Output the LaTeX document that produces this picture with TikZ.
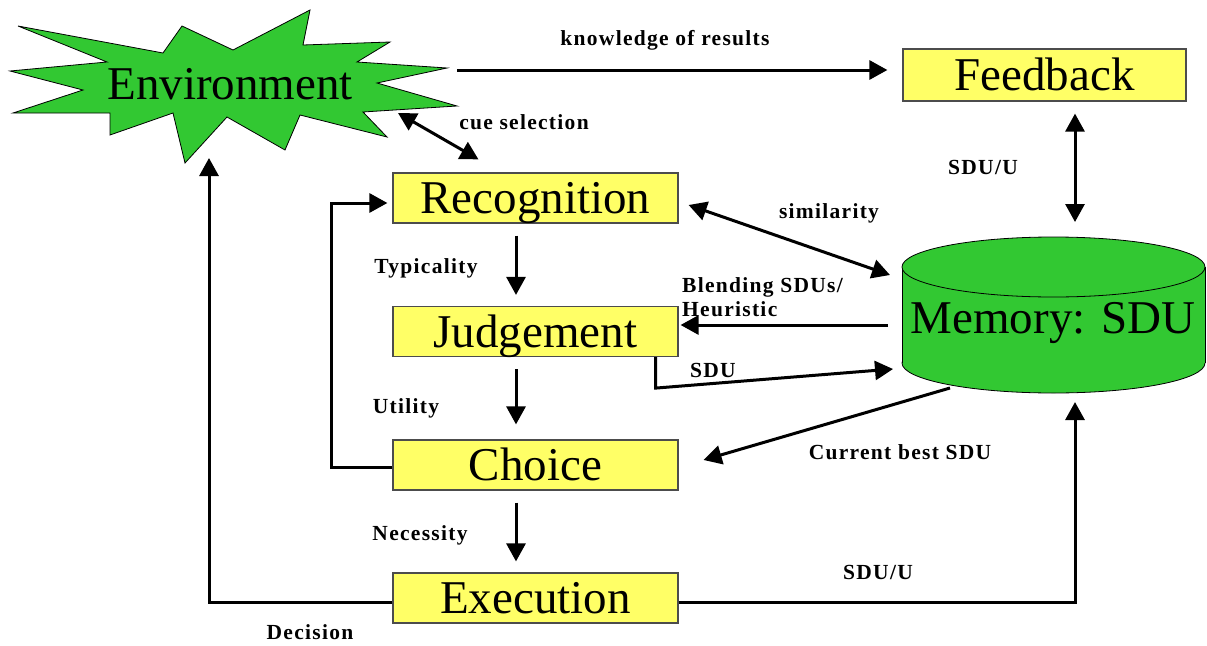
\documentclass[tikz,border=0pt]{standalone}
\usepackage{fontspec}
\setmainfont{Liberation Serif}
\newfontfamily\lblfont[LetterSpace=6]{Liberation Serif}
\usetikzlibrary{arrows.meta,calc}

\definecolor{envgreen}{RGB}{50,200,50}
\definecolor{boxyellow}{RGB}{255,255,102}

\tikzset{
  stage/.style={draw=black!70, line width=1.2pt, fill=boxyellow,
    minimum width=285, minimum height=50, inner sep=0pt,
    font=\fontsize{47}{50}\selectfont, text height=31pt, text depth=0pt},
  bigtext/.style={font=\fontsize{47}{50}\selectfont, inner sep=0pt,
    text height=31pt, text depth=0pt},
  lbl/.style={font=\lblfont\bfseries\fontsize{21.5}{24}\selectfont, inner sep=0pt},
  arr/.style={line width=3pt, -{Triangle[length=18pt,width=19pt]}},
  darr/.style={line width=3pt, {Triangle[length=18pt,width=19pt]}-{Triangle[length=18pt,width=19pt]}},
}

\begin{document}
\begin{tikzpicture}[x=1pt,y=-1pt]
\useasboundingbox (0,0) rectangle (1207,645);

%% environment burst
\draw[fill=envgreen, line width=0.8pt]
  (18,26) -- (163,53) -- (182,26) -- (233,50) -- (310,10) -- (303,45)
  -- (390,42) -- (357,62) -- (447,68) -- (377,83) -- (457,106) -- (363,112)
  -- (387,137) -- (300,115) -- (285,150) -- (227,117) -- (185,163) -- (173,113)
  -- (110,135) -- (110,113) -- (13,113) -- (83,90) -- (10,71) -- (107,62) -- cycle;
\node[bigtext] (env) at (230,84) {Environment};
\coordinate (envE) at (457,70);    %% right tip
\coordinate (envSE) at (398,113);  %% lower right
\coordinate (envS) at (209,158);   %% bottom

%% memory drum
\filldraw[fill=envgreen, line width=0.8pt] (1053.5,363) ellipse [x radius=151.5, y radius=30];
\fill[envgreen] (902,267) rectangle (1205,363);
\draw[line width=0.8pt] (902,267) -- (902,363) (1205,267) -- (1205,363);
\filldraw[fill=envgreen, line width=0.8pt] (1053.5,267) ellipse [x radius=151.5, y radius=30];
\node[bigtext] (mem) at (1053,318) {Memory: SDU};

%% stages
\node[stage] (rec) at (535.5,198) {Recognition};
\node[stage] (jud) at (535.5,331.5) {Judgement};
\node[stage] (cho) at (535.5,465) {Choice};
\node[stage] (exe) at (535.5,598) {Execution};
\node[stage, minimum width=283, minimum height=52] (fb) at (1044.5,75) {Feedback};

%% connectors
\draw[arr] (envE) -- ($(fb.west)+(-15,-5)$);                          %% knowledge
\draw[darr] (envSE) -- ($(rec.north)+(-57,-13)$);                     %% cue selection
\draw[darr] ($(fb.south)+(30.5,12)$) -- ($(mem)+(22,-96)$);           %% fb - mem
\draw[darr] ($(rec.east)+(10,7)$) -- ($(mem)+(-163,-43)$);            %% similarity
\draw[arr] ($(mem)+(-165,7)$) -- ($(jud.east)+(2,-6.5)$);             %% blending
\draw[arr] ($(jud.south east)+(-23,0)$) -- ++(0,31) -- ($(mem)+(-160,51)$); %% sdu
\draw[arr] ($(mem)+(-103,70)$) -- ($(cho.east)+(25,-5)$);             %% current best
\draw[arr] ($(rec.south)+(-19.5,12)$) -- ($(jud.north)+(-19.5,-11)$); %% typicality
\draw[arr] ($(jud.south)+(-19.5,12)$) -- ($(cho.north)+(-19.5,-15)$); %% utility
\draw[arr] ($(cho.south)+(-19.5,12)$) -- ($(exe.north)+(-19.5,-11)$); %% necessity
\draw[arr] ($(cho.west)+(0,2)$) -- ++(-61,0) |- ($(rec.west)+(-5,5)$);  %% loop back
\draw[arr] ($(exe.west)+(0,4)$) -| (envS);                            %% decision
\draw[arr] ($(exe.east)+(0,4)$) -| ($(mem)+(22,84)$);                 %% sdu/u

%% labels
\node[lbl] (lknow) at (665,40) {knowledge of results};
\node[lbl] (lcue) at (524,122) {cue selection};
\node[lbl] (lfb) at (983,167) {SDU/U};
\node[lbl] (lsim) at (829,213) {similarity};
\node[lbl, align=left, anchor=west] (lblend) at (682,297) {Blending SDUs/\\Heuristic};
\node[lbl] (ltyp) at (426,268) {Typicality};
\node[lbl] (lsdu) at (713,370) {SDU};
\node[lbl] (luti) at (406,408) {Utility};
\node[lbl] (lbest) at (900,452) {Current best SDU};
\node[lbl] (lnec) at (420,535) {Necessity};
\node[lbl] (lexe) at (878,572) {SDU/U};
\node[lbl] (ldec) at (310,632) {Decision};
\end{tikzpicture}
\end{document}
